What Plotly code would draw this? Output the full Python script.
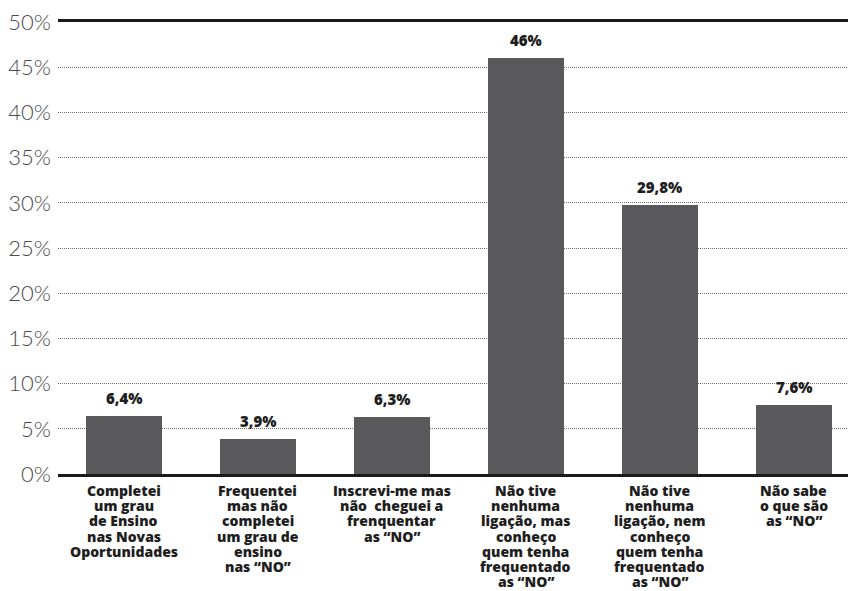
import plotly.graph_objects as go

categories = [
    "Completei<br>um grau<br>de Ensino<br>nas Novas<br>Oportunidades",
    "Frequentei<br>mas não<br>completei<br>um grau de<br>ensino<br>nas “NO”",
    "Inscrevi-me mas<br>não  cheguei a<br>frenquentar<br>as “NO”",
    "Não tive<br>nenhuma<br>ligação, mas<br>conheço<br>quem tenha<br>frequentado<br>as “NO”",
    "Não tive<br>nenhuma<br>ligação, nem<br>conheço<br>quem tenha<br>frequentado<br>as “NO”",
    "Não sabe<br>o que são<br>as “NO”",
]
values = [6.4, 3.9, 6.3, 46.0, 29.8, 7.6]
value_labels = ["6,4%", "3,9%", "6,3%", "46%", "29,8%", "7,6%"]
tick_vals = [0, 5, 10, 15, 20, 25, 30, 35, 40, 45, 50]
tick_text = ["0%", "5%", "10%", "15%", "20%", "25%", "30%", "35%", "40%", "45%", "50%"]

xs = list(range(len(categories)))

fig = go.Figure()
fig.add_trace(go.Bar(
    x=xs, y=values, width=0.567,
    marker=dict(color="#59595b", line=dict(width=0)),
    hoverinfo="skip",
))

label_font = dict(family="Open Sans", size=14, color="#1e1e1e", weight=800)

annotations = []
for x, v, lab in zip(xs, values, value_labels):
    annotations.append(dict(
        x=x, y=v, xref="x", yref="y", text=lab, showarrow=False,
        yanchor="middle", yshift=18,
        font=dict(family="Open Sans", size=15, color="#1e1e1e", weight=800),
    ))
for x, cat in zip(xs, categories):
    for i, line in enumerate(cat.split("<br>")):
        annotations.append(dict(
            x=x, y=0, xref="x", yref="y", text=line, showarrow=False,
            yanchor="middle", yshift=-(16.5 + 15.2 * i),
            font=label_font,
        ))

# page body has an 8px default margin, so the figure is offset by 8px
fig.update_layout(
    width=848, height=583,
    margin=dict(l=50, r=0, t=12, b=117),
    paper_bgcolor="white", plot_bgcolor="white",
    showlegend=False,
    bargap=0,
    annotations=annotations,
    xaxis=dict(
        range=[-0.4925, 5.463], showticklabels=False, showgrid=False,
        zeroline=False, showline=True, linewidth=3, linecolor="#1a1a1a",
        mirror=True, ticks="",
    ),
    yaxis=dict(
        range=[0, 50], tickvals=tick_vals, ticktext=tick_text,
        showgrid=True, gridcolor="#6e6e6e", gridwidth=1, griddash="1px,1px",
        zeroline=False, showline=False, ticks="",
        tickfont=dict(family="Lato", size=22, color="#4a4a4a", weight=300),
        ticklabelstandoff=6, ticklabeloverflow="allow",
    ),
)

fig.write_html("out.html")
